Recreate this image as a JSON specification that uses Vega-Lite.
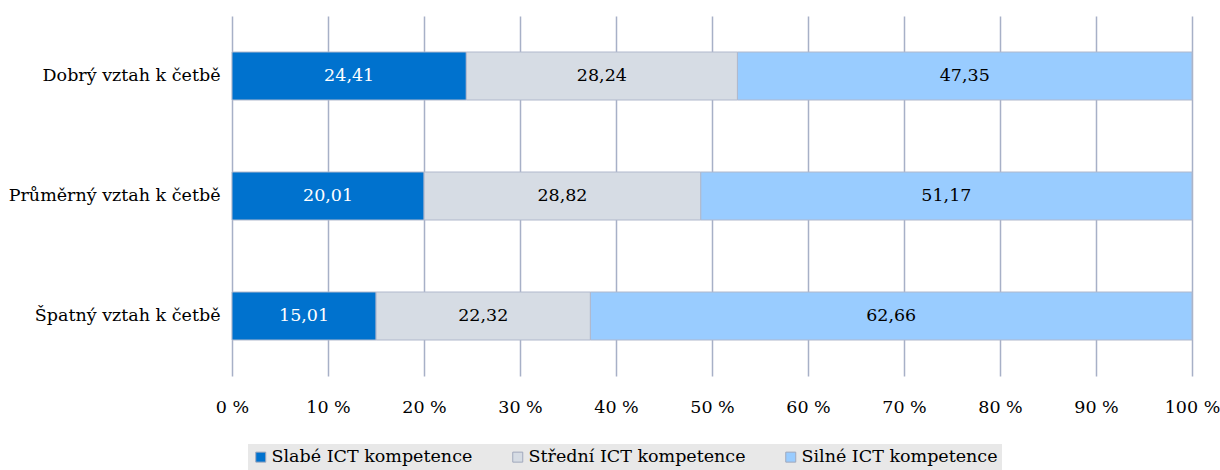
{
  "$schema": "https://vega.github.io/schema/vega-lite/v6.json",
  "autosize": "none",
  "width": 960,
  "height": 360,
  "padding": {"left": 232, "top": 16, "right": 28, "bottom": 94},
  "background": "white",
  "config": {
    "font": "DejaVu Serif",
    "view": {"stroke": null},
    "locale": {"number": {"decimal": ",", "thousands": " ", "grouping": [3], "currency": ["", " Kč"]}}
  },
  "data": {
    "values": [
      {"cat": "Dobrý vztah k četbě", "comp": "Slabé ICT kompetence", "ord": 1, "value": 24.41},
      {"cat": "Dobrý vztah k četbě", "comp": "Střední ICT kompetence", "ord": 2, "value": 28.24},
      {"cat": "Dobrý vztah k četbě", "comp": "Silné ICT kompetence", "ord": 3, "value": 47.35},
      {"cat": "Průměrný vztah k četbě", "comp": "Slabé ICT kompetence", "ord": 1, "value": 20.01},
      {"cat": "Průměrný vztah k četbě", "comp": "Střední ICT kompetence", "ord": 2, "value": 28.82},
      {"cat": "Průměrný vztah k četbě", "comp": "Silné ICT kompetence", "ord": 3, "value": 51.17},
      {"cat": "Špatný vztah k četbě", "comp": "Slabé ICT kompetence", "ord": 1, "value": 15.01},
      {"cat": "Špatný vztah k četbě", "comp": "Střední ICT kompetence", "ord": 2, "value": 22.32},
      {"cat": "Špatný vztah k četbě", "comp": "Silné ICT kompetence", "ord": 3, "value": 62.66}
    ]
  },
  "transform": [
    {"stack": "value", "groupby": ["cat"], "sort": [{"field": "ord", "order": "ascending"}], "as": ["v0", "v1"], "offset": "normalize"},
    {"calculate": "(datum.v0 + datum.v1) / 2", "as": "vmid"}
  ],
  "encoding": {
    "y": {
      "field": "cat",
      "type": "nominal",
      "sort": ["Dobrý vztah k četbě", "Průměrný vztah k četbě", "Špatný vztah k četbě"],
      "scale": {"paddingInner": 0.6, "paddingOuter": 0.3},
      "axis": {
        "title": null,
        "domain": false,
        "ticks": false,
        "labelFontSize": 17.5,
        "labelColor": "#000000",
        "labelPadding": 12,
        "labelLimit": 300,
        "labelFont": "DejaVu Serif"
      }
    }
  },
  "layer": [
    {
      "mark": {"type": "bar", "stroke": "#B0B8CC", "strokeWidth": 1},
      "encoding": {
        "x": {
          "field": "v0",
          "type": "quantitative",
          "scale": {"domain": [0, 1], "nice": false},
          "axis": {
            "title": null,
            "values": [0, 0.1, 0.2, 0.3, 0.4, 0.5, 0.6, 0.7, 0.8, 0.9, 1],
            "labelExpr": "round(datum.value * 100) + ' %'",
            "labelFlush": false,
            "labelOverlap": false,
            "grid": true,
            "gridColor": "#A7B0C7",
            "gridWidth": 1.5,
            "domain": false,
            "ticks": false,
            "labelFontSize": 17.5,
            "labelColor": "#000000",
            "labelPadding": 22,
            "labelFont": "DejaVu Serif"
          }
        },
        "x2": {"field": "v1"},
        "color": {
          "field": "comp",
          "type": "nominal",
          "sort": ["Slabé ICT kompetence", "Střední ICT kompetence", "Silné ICT kompetence"],
          "scale": {
            "domain": ["Slabé ICT kompetence", "Střední ICT kompetence", "Silné ICT kompetence"],
            "range": ["#0072CE", "#D6DCE4", "#99CCFF"]
          },
          "legend": {
            "title": null,
            "orient": "none",
            "direction": "horizontal",
            "legendX": 16,
            "legendY": 428,
            "fillColor": "#E8E8E8",
            "padding": 4,
            "symbolType": "square",
            "symbolSize": 100,
            "symbolStrokeColor": "#A0A8BC",
            "symbolStrokeWidth": 1,
            "labelFontSize": 17.5,
            "labelColor": "#000000",
            "labelFont": "DejaVu Serif",
            "labelOffset": 2,
            "labelLimit": 300,
            "columnPadding": 36
          }
        }
      }
    },
    {
      "mark": {"type": "text", "fontSize": 17.5, "font": "DejaVu Serif", "baseline": "middle", "align": "center"},
      "encoding": {
        "x": {"field": "vmid", "type": "quantitative"},
        "text": {"field": "value", "type": "quantitative", "format": ".2f"},
        "color": {
          "condition": {"test": "datum.ord === 1", "value": "#FFFFFF"},
          "value": "#000000"
        }
      }
    }
  ]
}
